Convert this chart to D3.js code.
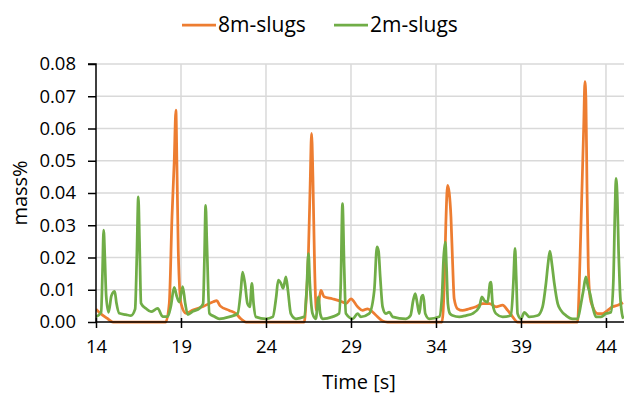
<!DOCTYPE html>
<html>
<head>
<meta charset="utf-8">
<script src="https://cdn.jsdelivr.net/npm/d3@7"></script>
<style>
  html, body { margin: 0; padding: 0; background: #fff; }
  svg { display: block; }
  text { font-family: "Open Sans", "Noto Sans", sans-serif; fill: #000; }
</style>
</head>
<body>
<svg id="chart" width="624" height="396"></svg>
<script>
// ---- Data ----
const seriesNames = ["8m-slugs", "2m-slugs"];
const seriesColors = ["#ED7D31", "#70AD47"];

const time8 = [14.0,14.25,14.64,15.0,18.1,18.31,18.47,18.6,18.7,18.76,18.84,19.0,19.3,19.7,20.3,20.9,21.1,21.3,21.84,22.23,22.52,22.82,26.25,26.35,26.5,26.6,26.68,26.76,26.86,26.97,27.1,27.23,27.42,27.9,28.5,28.7,29.0,29.39,29.68,29.98,30.27,30.56,30.86,31.15,34.35,34.49,34.58,34.68,34.78,34.88,34.98,35.07,35.27,35.56,35.96,36.35,36.74,37.14,37.53,37.92,38.22,38.51,38.8,42.33,42.43,42.57,42.69,42.76,42.82,42.88,42.96,43.06,43.22,43.51,43.8,44.1,44.39,44.69,45.0];
const mass8 = [0.0040,0.0027,0.0012,0.0,0.0,0.0058,0.0326,0.0496,0.0657,0.049,0.022,0.0058,0.0027,0.0037,0.0048,0.0063,0.0066,0.0050,0.0036,0.0026,0.001,0.0,0.0,0.0057,0.022,0.043,0.0585,0.045,0.017,0.0036,0.006,0.0098,0.0078,0.0072,0.0062,0.0057,0.0072,0.0047,0.0036,0.0041,0.0031,0.0016,0.0003,0.0,0.0,0.012,0.0305,0.0424,0.040,0.0326,0.018,0.0072,0.0041,0.0036,0.0041,0.0047,0.0057,0.0057,0.0047,0.0052,0.0036,0.0016,0.0,0.0,0.012,0.038,0.0606,0.0745,0.069,0.043,0.017,0.0078,0.0047,0.0026,0.0026,0.0036,0.0047,0.0052,0.006];

const time2 = [14.0,14.3,14.38,14.45,14.52,14.6,14.74,14.9,14.98,15.1,15.2,15.37,15.75,16.05,16.3,16.4,16.49,16.56,16.65,16.94,17.24,17.63,17.92,18.22,18.4,18.6,18.76,18.9,19.1,19.25,19.4,19.7,20.1,20.3,20.38,20.45,20.52,20.67,20.96,21.25,21.84,22.33,22.52,22.62,22.76,22.91,23.05,23.17,23.27,23.4,24.0,24.4,24.6,24.72,24.88,25.01,25.17,25.29,25.46,25.76,26.25,26.39,26.5,26.58,26.74,26.93,27.09,27.19,27.33,27.9,28.3,28.4,28.5,28.6,28.7,29.1,29.39,29.58,30.07,30.37,30.53,30.62,30.72,30.86,31.05,31.25,31.45,32.23,32.5,32.66,32.78,32.9,33.02,33.15,33.25,33.37,33.6,34.19,34.35,34.45,34.55,34.62,34.7,34.82,34.98,35.37,35.76,36.15,36.55,36.7,36.84,37.04,37.18,37.23,37.33,37.53,37.92,38.41,38.55,38.65,38.72,38.8,39.0,39.2,39.49,39.98,40.27,40.47,40.59,40.7,40.82,40.96,41.16,41.35,41.65,42.04,42.33,42.53,42.67,42.82,42.94,43.06,43.22,43.41,43.71,44.0,44.29,44.43,44.53,44.59,44.67,44.74,44.82,44.94,45.02];
const mass2 = [0.0016,0.003,0.015,0.0285,0.02,0.008,0.003,0.008,0.009,0.0095,0.006,0.0027,0.0023,0.002,0.004,0.02,0.0388,0.025,0.0058,0.0042,0.0032,0.0042,0.0017,0.0017,0.0048,0.0107,0.0078,0.0062,0.011,0.0057,0.0023,0.0033,0.0043,0.0057,0.02,0.0362,0.025,0.0027,0.0017,0.001,0.0016,0.0026,0.0098,0.0155,0.012,0.0057,0.0047,0.012,0.0057,0.0016,0.001,0.0016,0.0078,0.013,0.012,0.0104,0.014,0.0098,0.0026,0.001,0.0016,0.0098,0.0212,0.012,0.0026,0.001,0.0078,0.0026,0.001,0.0016,0.0026,0.012,0.0367,0.017,0.0026,0.001,0.0026,0.0016,0.0026,0.0098,0.0233,0.022,0.014,0.0047,0.0026,0.0031,0.0016,0.001,0.002,0.0067,0.0088,0.0057,0.0026,0.0078,0.0083,0.0026,0.001,0.0016,0.0078,0.020,0.0248,0.017,0.0057,0.0026,0.002,0.0016,0.002,0.0026,0.0047,0.0078,0.0067,0.0062,0.012,0.0124,0.0057,0.0026,0.0016,0.002,0.012,0.0228,0.014,0.0026,0.001,0.003,0.0016,0.002,0.0047,0.012,0.018,0.022,0.018,0.012,0.0057,0.0036,0.002,0.001,0.001,0.0057,0.0098,0.014,0.011,0.0088,0.0047,0.0016,0.0016,0.0026,0.003,0.012,0.0347,0.0445,0.0378,0.022,0.0098,0.0026,0.001];

const xTicks = [14, 19, 24, 29, 34, 39, 44];
const yTicks = [0, 0.01, 0.02, 0.03, 0.04, 0.05, 0.06, 0.07, 0.08];

// ---- Layout ----
const svg = d3.select("#chart");
const pL = 96, pR = 624, pT = 64, pB = 322;

const x = d3.scaleLinear().domain([14, 45.06]).range([pL, pR]);
const y = d3.scaleLinear().domain([0, 0.08]).range([pB, pT]);

// gridlines
const grid = svg.append("g");
grid.selectAll("line.h").data(yTicks.slice(1)).join("line")
  .attr("x1", pL).attr("x2", pR)
  .attr("y1", d => y(d)).attr("y2", d => y(d))
  .attr("stroke", "#D9D9D9").attr("stroke-width", 1.5);
grid.selectAll("line.v").data(xTicks.slice(1)).join("line")
  .attr("x1", d => x(d)).attr("x2", d => x(d))
  .attr("y1", pT).attr("y2", pB)
  .attr("stroke", "#D9D9D9").attr("stroke-width", 1.5);

// series
const plot = svg.append("g");
svg.append("clipPath").attr("id", "clip").append("rect")
  .attr("x", pL).attr("y", pT - 20).attr("width", pR - pL).attr("height", pB - pT + 22);
const seriesData = [
  d3.zip(time8, mass8),
  d3.zip(time2, mass2)
];
const line = d3.line().x(d => x(d[0])).y(d => y(d[1])).curve(d3.curveMonotoneX);
seriesData.forEach((data, i) => {
  plot.append("path")
    .datum(data)
    .attr("d", line)
    .attr("fill", "none")
    .attr("stroke", seriesColors[i])
    .attr("stroke-width", 2.75)
    .attr("stroke-linejoin", "round")
    .attr("clip-path", "url(#clip)");
});

// y axis
const yAxis = d3.axisLeft(y).tickValues(yTicks).tickFormat(d3.format(".2f")).tickSize(8).tickPadding(12);
const gy = svg.append("g").attr("transform", `translate(${pL},0)`).call(yAxis);
gy.select(".domain").attr("stroke", "#000").attr("stroke-width", 1.5).attr("d", `M-8,${pT}H0V${pB}`);
gy.selectAll(".tick line").attr("stroke", "#000").attr("stroke-width", 1.5);
gy.selectAll(".tick text").attr("font-size", 18.5).attr("font-family", "Open Sans").attr("fill", "#000");

// x axis
const xAxis = d3.axisBottom(x).tickValues(xTicks).tickFormat(d3.format("d")).tickSize(6).tickPadding(12);
const gx = svg.append("g").attr("transform", `translate(0,${pB})`).call(xAxis);
gx.select(".domain").attr("stroke", "#000").attr("stroke-width", 1.5).attr("d", `M${pL},0H${pR}`);
gx.selectAll(".tick line").attr("stroke", "#000").attr("stroke-width", 1.5).attr("y1", -4);
gx.selectAll(".tick text").attr("font-size", 18.5).attr("font-family", "Open Sans").attr("fill", "#000");

// axis titles
svg.append("text").attr("x", 359).attr("y", 389).attr("text-anchor", "middle")
  .attr("font-size", 20).text("Time [s]");
svg.append("text").attr("transform", `translate(27,${(pT + pB) / 2}) rotate(-90)`)
  .attr("text-anchor", "middle").attr("font-size", 20).text("mass%");

// legend
const legend = svg.append("g");
const legItems = [{x0: 182, tx: 218}, {x0: 334, tx: 370}];
seriesNames.forEach((name, i) => {
  legend.append("line").attr("x1", legItems[i].x0).attr("x2", legItems[i].x0 + 34)
    .attr("y1", 25).attr("y2", 25).attr("stroke", seriesColors[i]).attr("stroke-width", 2.75);
  legend.append("text").attr("x", legItems[i].tx).attr("y", 32)
    .attr("font-size", 21).text(name);
});
</script>
</body>
</html>
